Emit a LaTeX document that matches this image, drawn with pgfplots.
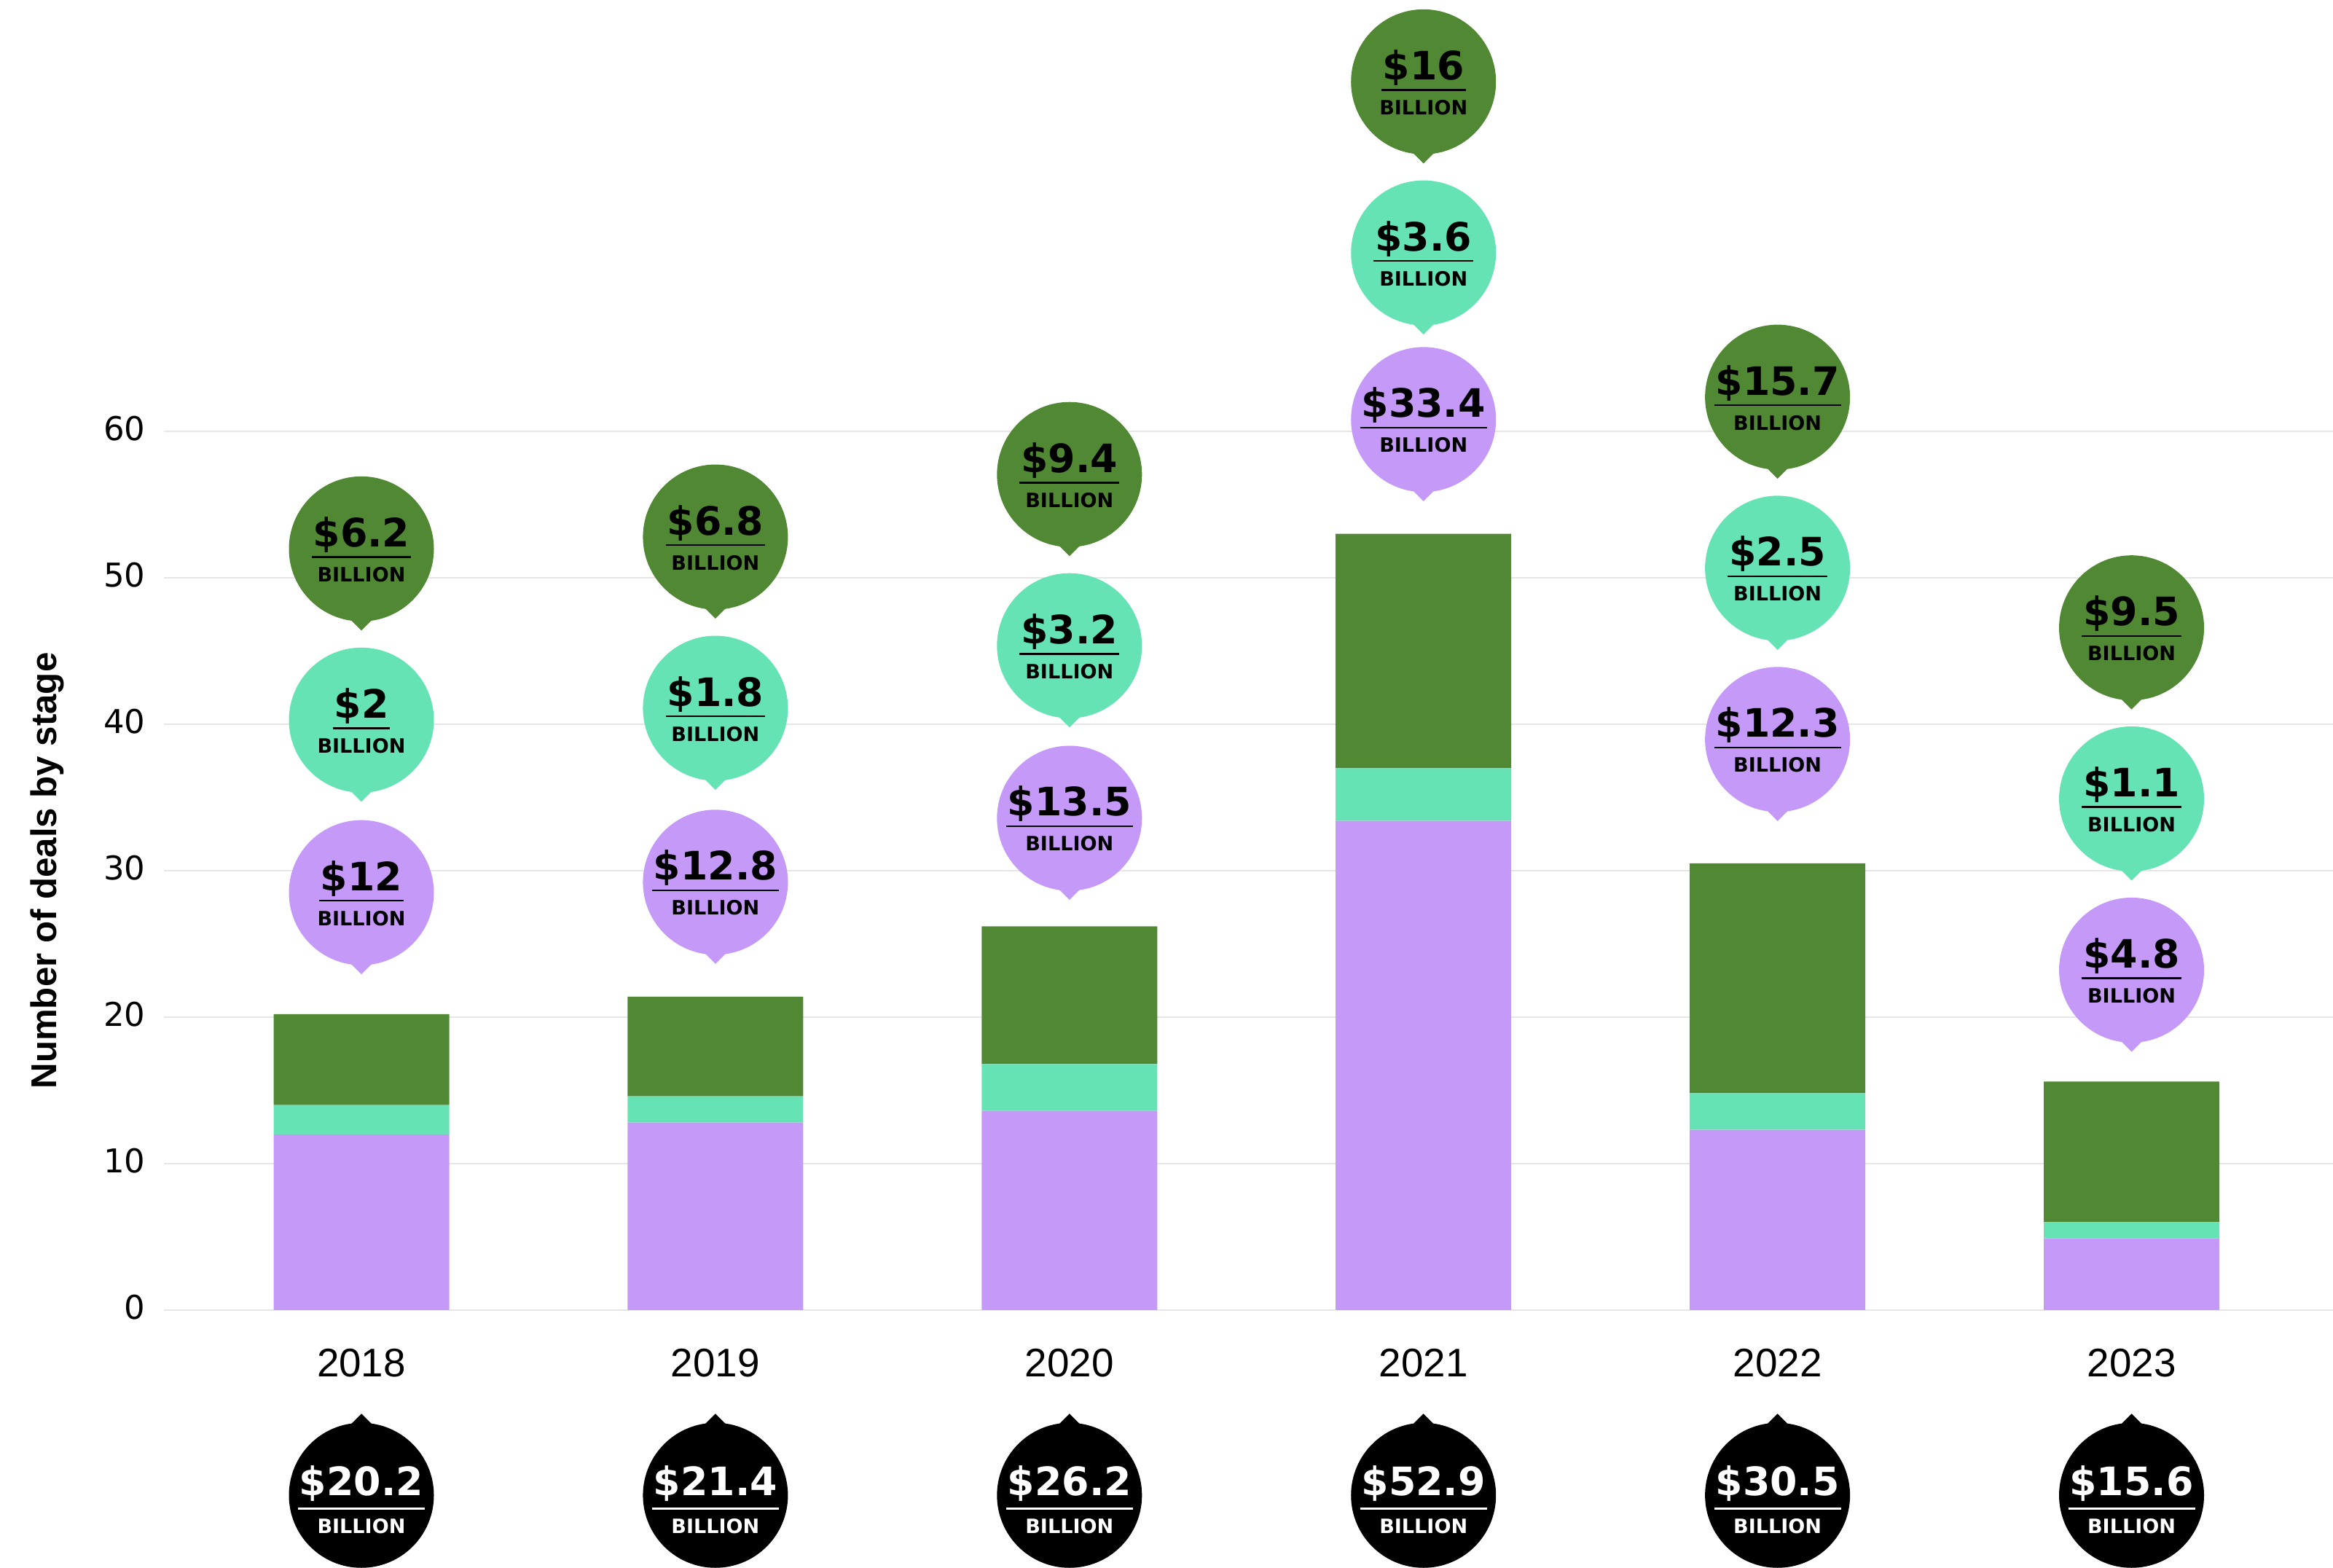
\documentclass[border=0pt]{standalone}
\usepackage{pgfplots}
\pgfplotsset{compat=1.18}
\usepackage{fontspec}
\setmainfont{Liberation Sans}
\newfontfamily\djfont{DejaVu Sans}
\definecolor{cpurple}{HTML}{C499F8}
\definecolor{cteal}{HTML}{66E3B4}
\definecolor{cgreen}{HTML}{518834}
\definecolor{cgrid}{HTML}{E6E6E6}
\newcommand\numfont{\djfont\bfseries\fontsize{15.3}{15}\selectfont}
\newcommand\billfont{\djfont\bfseries\fontsize{7.7}{8}\selectfont}
% number with underline; #1 number, #2 drop of rule bottom
\newcommand\ulnum[2]{\setbox0=\hbox{\numfont\$#1}\rlap{\hskip-0.02cm\rule[-#2]{\dimexpr\wd0+0.04cm\relax}{0.023cm}}\box0}
% colored bubble, pointer down: #1 coordinate name, #2 colour, #3 number
\newcommand\bub[3]{%
 \fill[#2] (#1) circle[radius=0.995cm];
 \fill[#2] (#1) ++(-0.2cm,-0.92cm) -- ++(0.2cm,-0.2cm) -- ++(0.2cm,0.2cm) -- cycle;
 \node[anchor=base, inner sep=0pt, text=black, yshift=0.03cm] at (#1) {\ulnum{#3}{0.153cm}};
 \node[anchor=base, inner sep=0pt, text=black, font=\billfont, yshift=-0.45cm] at (#1) {BILLION};
}
% black bubble, pointer up
\newcommand\bbub[2]{%
 \fill[black] (#1) circle[radius=0.995cm];
 \fill[black] (#1) ++(-0.2cm,0.92cm) -- ++(0.2cm,0.2cm) -- ++(0.2cm,-0.2cm) -- cycle;
 \node[anchor=base, inner sep=0pt, text=white] at (#1) {\ulnum{#2}{0.193cm}};
 \node[anchor=base, inner sep=0pt, text=white, font=\billfont, yshift=-0.52cm] at (#1) {BILLION};
}
\begin{document}
\begin{tikzpicture}
\begin{axis}[
  x=4.859cm, y=0.201cm,
  xmin=-0.5577, xmax=5.569,
  ymin=0, ymax=60,
  ybar stacked, bar width=2.41cm,
  clip=false,
  axis line style={draw=none},
  major tick length=0pt,
  tick style={draw=none},
  ymajorgrids, major grid style={cgrid, line width=0.025cm},
  ytick={0,10,...,60},
  xtick={0,1,2,3,4,5},
  xticklabels={2018,2019,2020,2021,2022,2023},
  /pgf/number format/assume math mode=true,
  yticklabel style={font=\djfont\fontsize{12.8}{13}\selectfont, anchor=east, inner sep=0pt, xshift=-0.25cm, yshift=0.04cm},
  xticklabel style={font=\fontsize{15.6}{16}\selectfont, anchor=north, inner sep=0pt, yshift=-0.53cm},
]
\addplot[fill=cpurple, draw=none] coordinates {(0,12) (1,12.8) (2,13.6) (3,33.4) (4,12.3) (5,4.9)};
\addplot[fill=cteal, draw=none] coordinates {(0,2) (1,1.8) (2,3.2) (3,3.6) (4,2.5) (5,1.1)};
\addplot[fill=cgreen, draw=none] coordinates {(0,6.2) (1,6.8) (2,9.4) (3,16) (4,15.7) (5,9.6)};

\coordinate (g0) at (axis cs:0,51.97);
\coordinate (t0) at (axis cs:0,40.28);
\coordinate (p0) at (axis cs:0,28.50);
\coordinate (g1) at (axis cs:1,52.78);
\coordinate (t1) at (axis cs:1,41.09);
\coordinate (p1) at (axis cs:1,29.21);
\coordinate (g2) at (axis cs:2,57.05);
\coordinate (t2) at (axis cs:2,45.36);
\coordinate (p2) at (axis cs:2,33.58);
\coordinate (g3) at (axis cs:3,83.86);
\coordinate (t3) at (axis cs:3,72.18);
\coordinate (p3) at (axis cs:3,60.80);
\coordinate (g4) at (axis cs:4,62.33);
\coordinate (t4) at (axis cs:4,50.65);
\coordinate (p4) at (axis cs:4,38.96);
\coordinate (g5) at (axis cs:5,46.58);
\coordinate (t5) at (axis cs:5,34.90);
\coordinate (p5) at (axis cs:5,23.21);
\coordinate (k0) at (axis cs:0,-12.65);
\coordinate (k1) at (axis cs:1,-12.65);
\coordinate (k2) at (axis cs:2,-12.65);
\coordinate (k3) at (axis cs:3,-12.65);
\coordinate (k4) at (axis cs:4,-12.65);
\coordinate (k5) at (axis cs:5,-12.65);
\coordinate (yl) at (axis cs:-0.887,30);
\coordinate (BL) at (axis cs:-1.0208,-17.61);
\coordinate (TR) at (axis cs:5.569,89.45);
\end{axis}

\bub{g0}{cgreen}{6.2}
\bub{t0}{cteal}{2}
\bub{p0}{cpurple}{12}
\bub{g1}{cgreen}{6.8}
\bub{t1}{cteal}{1.8}
\bub{p1}{cpurple}{12.8}
\bub{g2}{cgreen}{9.4}
\bub{t2}{cteal}{3.2}
\bub{p2}{cpurple}{13.5}
\bub{g3}{cgreen}{16}
\bub{t3}{cteal}{3.6}
\bub{p3}{cpurple}{33.4}
\bub{g4}{cgreen}{15.7}
\bub{t4}{cteal}{2.5}
\bub{p4}{cpurple}{12.3}
\bub{g5}{cgreen}{9.5}
\bub{t5}{cteal}{1.1}
\bub{p5}{cpurple}{4.8}

\bbub{k0}{20.2}
\bbub{k1}{21.4}
\bbub{k2}{26.2}
\bbub{k3}{52.9}
\bbub{k4}{30.5}
\bbub{k5}{15.6}

\node[rotate=90, font=\bfseries\fontsize{14}{14}\selectfont] at (yl) {Number of deals by stage};

\pgfresetboundingbox
\path[use as bounding box] (BL) rectangle (TR);
\end{tikzpicture}
\end{document}
